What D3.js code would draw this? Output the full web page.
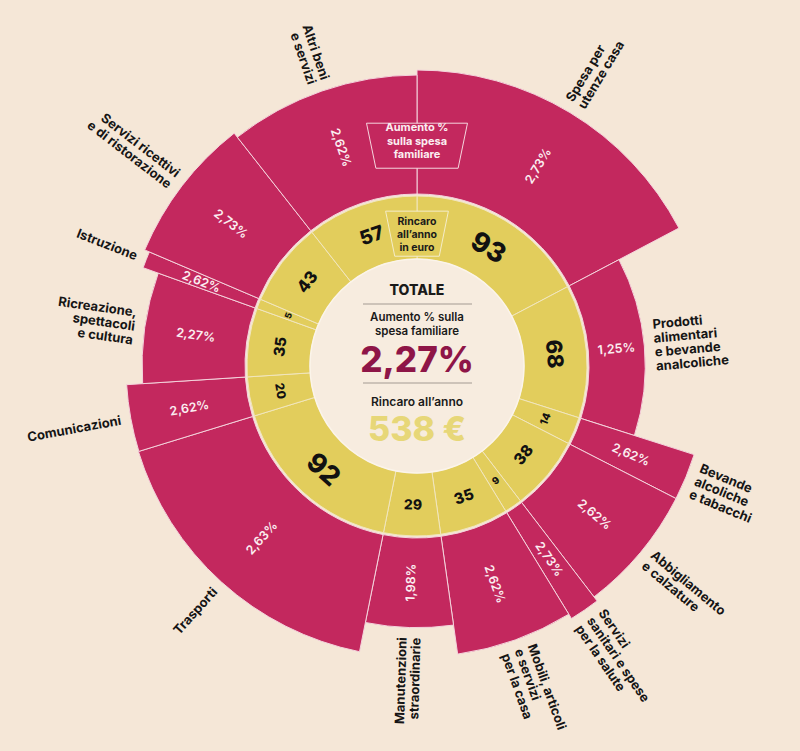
<!DOCTYPE html>
<html>
<head>
<meta charset="utf-8">
<script src="https://cdn.jsdelivr.net/npm/d3@7"></script>
<style>
  html, body { margin: 0; padding: 0; background: #f5e7d7; }
  svg { display: block; font-family: Inter, "Noto Sans", sans-serif; }
</style>
</head>
<body>
<div id="app"></div>
<script>
// categories, clockwise from 12 o'clock
const categories = [
  "Spesa per utenze casa", "Prodotti alimentari e bevande analcoliche",
  "Bevande alcoliche e tabacchi", "Abbigliamento e calzature",
  "Servizi sanitari e spese per la salute", "Mobili, articoli e servizi per la casa",
  "Manutenzioni straordinarie", "Trasporti", "Comunicazioni",
  "Ricreazione, spettacoli e cultura", "Istruzione",
  "Servizi ricettivi e di ristorazione", "Altri beni e servizi"
];
const labelLines = [
  ["Spesa per", "utenze casa"],
  ["Prodotti", "alimentari", "e bevande", "analcoliche"],
  ["Bevande", "alcoliche", "e tabacchi"],
  ["Abbigliamento", "e calzature"],
  ["Servizi", "sanitari e spese", "per la salute"],
  ["Mobili, articoli", "e servizi", "per la casa"],
  ["Manutenzioni", "straordinarie"],
  ["Trasporti"],
  ["Comunicazioni"],
  ["Ricreazione,", "spettacoli", "e cultura"],
  ["Istruzione"],
  ["Servizi ricettivi", "e di ristorazione"],
  ["Altri beni", "e servizi"]
];
// rincaro all'anno in euro
const euroValues = [93, 68, 14, 38, 9, 35, 29, 92, 20, 35, 5, 43, 57];
// aumento % sulla spesa familiare
const pctValues = [2.73, 1.25, 2.62, 2.62, 2.73, 2.62, 1.98, 2.63, 2.62, 2.27, 2.62, 2.73, 2.62];
const totalPct = 2.27;
const totalEuro = 538;

const width = 800, height = 751;
const cx = 417, cy = 366;
const rInner = 107, rYellow = 170, rMagIn = 172;

const magenta = "#c3285e", yellow = "#e2cd5c", bg = "#f5e7d7";

const it = d3.formatLocale({ decimal: ",", thousands: ".", grouping: [3], currency: ["", " €"] });
const fmtPct = v => it.format(".2f")(v) + "%";

const rows = categories.map((c, i) => ({ name: c, lines: labelLines[i], euro: euroValues[i], pct: pctValues[i] }));

const svg = d3.select("#app").append("svg")
  .attr("width", width).attr("height", height);
svg.append("rect").attr("width", width).attr("height", height).attr("fill", bg);

const g = svg.append("g").attr("transform", `translate(${cx},${cy})`);

const pie = d3.pie().value(d => d.euro).sort(null);
const arcs = pie(rows);

const rScale = d3.scaleLinear().domain([0, d3.max(pctValues)]).range([rMagIn - 1, 296]);
const sizeScale = d3.scaleLinear().domain([d3.min(euroValues), d3.max(euroValues)]).range([9, 27]);

const pt = (r, a) => [r * Math.sin(a), -r * Math.cos(a)];
const deg = a => a * 180 / Math.PI;
const mid = d => (d.startAngle + d.endAngle) / 2;

// magenta outer ring
const magArc = d3.arc().innerRadius(rMagIn).outerRadius(d => rScale(d.data.pct));
g.selectAll("path.mag").data(arcs).enter().append("path")
  .attr("class", "mag")
  .attr("d", magArc)
  .attr("fill", magenta)
  .attr("stroke", "#f4d3dc")
  .attr("stroke-width", 1);

// yellow ring
const yelArc = d3.arc().innerRadius(rInner).outerRadius(rYellow);
g.selectAll("path.yel").data(arcs).enter().append("path")
  .attr("class", "yel")
  .attr("d", yelArc)
  .attr("fill", yellow)
  .attr("stroke", "#f1e6bd")
  .attr("stroke-width", 1);

// inner disc
g.append("circle").attr("r", rInner).attr("fill", "#f7ecdf").attr("stroke", "#fbf4ea").attr("stroke-width", 1.5);

// box helper (trapezoid on the 12 o'clock line)
function boxPath(r0, r1, half) {
  const p = [pt(r1, -half), pt(r1, half), pt(r0, half), pt(r0, -half)];
  return d3.line()(p) + "Z";
}

// "Aumento % sulla spesa familiare" tag
g.append("path").attr("d", boxPath(202, 248, 0.205))
  .attr("fill", magenta).attr("stroke", "#f6d6de").attr("stroke-width", 1);
const tagA = g.append("text").attr("text-anchor", "middle")
  .attr("fill", "#fbeef1").attr("font-size", 11).attr("font-weight", 700);
["Aumento %", "sulla spesa", "familiare"].forEach((t, i) => {
  tagA.append("tspan").attr("x", 0).attr("y", -239 + i * 13.5 + 4).text(t);
});

// "Rincaro all'anno in euro" tag
g.append("path").attr("d", boxPath(112, 158, 0.2))
  .attr("fill", yellow).attr("stroke", "#f4ecc9").attr("stroke-width", 1);
const tagR = g.append("text").attr("text-anchor", "middle")
  .attr("fill", "#1a1a1a").attr("font-size", 10.5).attr("font-weight", 700);
["Rincaro", "all\u2019anno", "in euro"].forEach((t, i) => {
  tagR.append("tspan").attr("x", 0).attr("y", -145 + i * 13 + 4).text(t);
});

// percent labels in magenta ring
g.selectAll("g.pct").data(arcs).enter().append("g")
  .attr("class", "pct")
  .attr("transform", d => {
    const a = mid(d), r = (rMagIn + rScale(d.data.pct)) / 2;
    const [x, y] = pt(r, a);
    const rot = deg(a) < 180 ? deg(a) - 90 : deg(a) - 270;
    return `translate(${x},${y}) rotate(${rot})`;
  })
  .append("text")
  .attr("text-anchor", "middle")
  .attr("dominant-baseline", "central")
  .attr("fill", "#fbeef1")
  .attr("font-size", 12.5)
  .attr("font-weight", 600)
  .text(d => fmtPct(d.data.pct));

// euro values in yellow ring
g.selectAll("g.eur").data(arcs).enter().append("g")
  .attr("class", "eur")
  .attr("transform", d => {
    const a = mid(d);
    const [x, y] = pt((rInner + rYellow) / 2, a);
    const dg = deg(a);
    const rot = (dg > 90 && dg < 270) ? dg - 180 : dg;
    return `translate(${x},${y}) rotate(${rot})`;
  })
  .append("text")
  .attr("text-anchor", "middle")
  .attr("dominant-baseline", "central")
  .attr("fill", "#111")
  .attr("font-size", d => sizeScale(d.data.euro))
  .attr("font-weight", 800)
  .text(d => d.data.euro);

// category labels outside
const lh = 14;
g.selectAll("g.cat").data(arcs).enter().append("g")
  .attr("class", "cat")
  .attr("transform", d => {
    const a = mid(d);
    const [x, y] = pt(rScale(d.data.pct) + 10, a);
    const rot = deg(a) < 180 ? deg(a) - 90 : deg(a) - 270;
    return `translate(${x},${y}) rotate(${rot})`;
  })
  .append("text")
  .attr("text-anchor", d => deg(mid(d)) < 180 ? "start" : "end")
  .attr("fill", "#151515")
  .attr("font-size", 13)
  .attr("font-weight", 700)
  .each(function (d) {
    const n = d.data.lines.length;
    d3.select(this).selectAll("tspan").data(d.data.lines).enter().append("tspan")
      .attr("x", 0)
      .attr("y", (t, i) => (i - (n - 1) / 2) * lh + 4.5)
      .text(t => t);
  });

// centre block
const c = g.append("g");
c.append("text").attr("text-anchor", "middle").attr("y", -71)
  .attr("font-size", 14).attr("font-weight", 800).attr("fill", "#1a1a1a").text("TOTALE");
c.append("line").attr("x1", -54).attr("x2", 55).attr("y1", -62).attr("y2", -62)
  .attr("stroke", "#a39a92").attr("stroke-width", 1);
c.append("text").attr("text-anchor", "middle").attr("y", -45.5)
  .attr("font-size", 11.5).attr("font-weight", 600).attr("fill", "#1a1a1a").text("Aumento % sulla");
c.append("text").attr("text-anchor", "middle").attr("y", -31.5)
  .attr("font-size", 11.5).attr("font-weight", 600).attr("fill", "#1a1a1a").text("spesa familiare");
c.append("text").attr("text-anchor", "middle").attr("y", 6)
  .attr("font-size", 35).attr("font-weight", 800).attr("fill", "#8e1547").text(fmtPct(totalPct));
c.append("line").attr("x1", -54).attr("x2", 55).attr("y1", 17).attr("y2", 17)
  .attr("stroke", "#a39a92").attr("stroke-width", 1);
c.append("text").attr("text-anchor", "middle").attr("y", 40)
  .attr("font-size", 12).attr("font-weight", 600).attr("fill", "#1a1a1a").text("Rincaro all\u2019anno");
c.append("text").attr("text-anchor", "middle").attr("y", 75)
  .attr("font-size", 34).attr("font-weight", 800).attr("fill", "#e7d778").text(totalEuro + " \u20ac");
</script>
</body>
</html>
